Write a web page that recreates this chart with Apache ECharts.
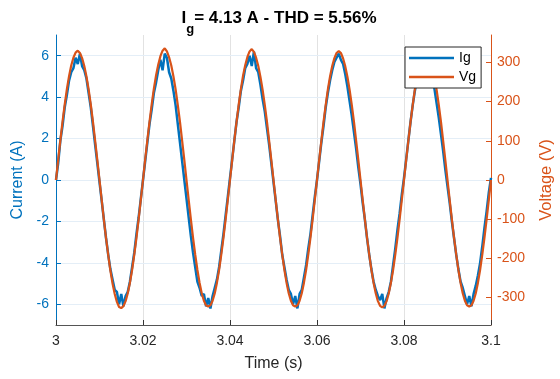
<!DOCTYPE html>
<html>
<head>
<meta charset="utf-8">
<script src="https://cdn.jsdelivr.net/npm/echarts@6/dist/echarts.min.js"></script>
<style>html,body{margin:0;padding:0;background:#fff}#c{width:560px;height:379px}</style>
</head>
<body>
<div id="c"></div>
<script>
// sampling grid (s)
const sampleStart = 3.0;
const sampleStep = 0.0005;
// ticks
const xTicks = [3, 3.02, 3.04, 3.06, 3.08, 3.1];
const currentTicks = [-6, -4, -2, 0, 2, 4, 6];
const voltageTicks = [-300, -200, -100, 0, 100, 200, 300];
// Ig (A)
const currentIg = [
 0.0, 0.8, 1.9, 2.6, 3.5, 4.1, 4.8, 5.2, 5.4, 5.9, 5.6, 6.1, 5.5, 5.3, 4.9, 4.2, 3.5, 2.6, 1.7, 0.8,
 -0.1, -1.0, -1.9, -2.8, -3.6, -4.3, -4.8, -5.3, -5.4, -6.0, -5.5, -6.1, -5.6, -5.4, -4.9, -4.2, -3.5, -2.6, -1.8, -0.9,
 0.0, 0.9, 1.8, 2.7, 3.4, 4.2, 4.7, 5.3, 5.8, 5.3, 6.1, 5.9, 5.2, 4.9, 4.3, 3.6, 2.7, 1.8, 0.9, 0.0,
 -0.9, -1.8, -2.7, -3.5, -4.2, -4.9, -5.2, -5.6, -5.5, -6.1, -5.7, -6.2, -5.6, -5.2, -4.8, -4.2, -3.4, -2.6, -1.7, -0.8,
 0.1, 1.0, 1.9, 2.8, 3.5, 4.3, 4.8, 5.4, 5.6, 6.0, 5.5, 6.2, 5.4, 5.2, 4.6, 3.9, 3.3, 2.5, 1.7, 0.8,
 -0.1, -1.0, -1.9, -2.7, -3.6, -4.2, -4.8, -5.3, -5.5, -6.0, -5.6, -6.2, -5.5, -5.3, -4.7, -4.1, -3.3, -2.6, -1.7, -0.8,
 0.0, 0.9, 1.8, 2.6, 3.5, 4.2, 4.8, 5.3, 5.7, 5.9, 6.1, 5.8, 5.6, 5.1, 4.5, 3.8, 3.1, 2.3, 1.5, 0.6,
 -0.2, -1.1, -1.9, -2.8, -3.6, -4.3, -4.9, -5.3, -5.6, -5.8, -5.5, -6.2, -5.7, -5.4, -4.9, -4.1, -3.3, -2.4, -1.6, -0.7,
 0.1, 1.0, 1.9, 2.8, 3.6, 4.3, 4.9, 5.4, 5.8, 6.0, 6.1, 5.9, 5.5, 5.0, 4.4, 3.7, 3.0, 2.2, 1.4, 0.5,
 -0.3, -1.1, -2.0, -2.8, -3.6, -4.3, -4.9, -5.2, -5.6, -6.0, -5.6, -6.1, -5.5, -5.1, -4.6, -4.0, -3.2, -2.3, -1.5, -0.6,
 0.1
];
// Vg (V)
const voltageVg = [
 0, 52, 101, 149, 192, 232, 265, 292, 312, 325, 330, 324, 311, 291, 264, 231, 192, 148, 100, 51,
 0, -51, -101, -148, -191, -231, -264, -291, -311, -324, -327, -322, -309, -289, -262, -229, -190, -147, -100, -50,
 0, 52, 101, 149, 193, 233, 267, 294, 316, 330, 336, 328, 313, 292, 264, 231, 191, 148, 100, 51,
 0, -51, -100, -147, -190, -229, -262, -289, -308, -320, -323, -320, -308, -289, -262, -229, -190, -147, -100, -50,
 0, 51, 101, 148, 192, 232, 266, 293, 314, 328, 334, 327, 312, 291, 263, 230, 191, 148, 100, 51,
 0, -51, -100, -147, -190, -229, -262, -289, -308, -320, -323, -320, -308, -289, -262, -229, -190, -147, -100, -50,
 0, 51, 100, 148, 191, 231, 264, 291, 311, 324, 329, 324, 310, 290, 263, 230, 191, 148, 100, 51,
 0, -51, -100, -147, -190, -229, -262, -289, -309, -321, -325, -321, -309, -289, -262, -229, -190, -147, -100, -50,
 0, 51, 100, 148, 191, 231, 264, 291, 311, 324, 329, 324, 310, 290, 263, 230, 191, 148, 100, 51,
 0, -51, -100, -147, -190, -229, -262, -289, -308, -320, -323, -320, -308, -289, -262, -229, -190, -147, -100, -50,
 0
];

const igData = currentIg.map((v, i) => [sampleStart + i * sampleStep, v]);
const vgData = voltageVg.map((v, i) => [sampleStart + i * sampleStep, v]);

const FONT = 'Liberation Sans, Arial, Helvetica, sans-serif';
const chart = echarts.init(document.getElementById('c'), null, {renderer: 'canvas'});
chart.setOption({
  animation: false,
  backgroundColor: '#fff',
  title: {
    text: '{a|I}{s|g}{a|= 4.13 A - THD = 5.56%}',
    left: 274, top: 5, textAlign: 'center',
    textStyle: {
      rich: {
        a: {fontFamily: FONT, fontSize: 17, fontWeight: 'bold', color: '#000', lineHeight: 22, verticalAlign: 'top'},
        s: {fontFamily: FONT, fontSize: 13, fontWeight: 'bold', color: '#000', lineHeight: 22, verticalAlign: 'top', padding: [13, 0, 0, 0]}
      }
    }
  },
  legend: {
    orient: 'vertical', left: 405, top: 47, z: 50,
    padding: [3, 5, 3, 4], itemGap: 3, itemWidth: 45, itemHeight: 2.5,
    backgroundColor: '#fff', borderColor: '#262626', borderWidth: 1,
    textStyle: {fontFamily: FONT, fontSize: 14, color: '#000', lineHeight: 16},
    data: [{name: 'Ig', icon: 'rect'}, {name: 'Vg', icon: 'rect'}]
  },
  grid: {left: 56, right: 69, top: 35, bottom: 54, outerBoundsMode: 'none', containLabel: false},
  xAxis: {
    type: 'value', min: 3, max: 3.1, interval: 0.02,
    name: 'Time (s)', nameLocation: 'middle', nameGap: 31,
    nameTextStyle: {fontFamily: FONT, fontSize: 16, color: '#262626'},
    axisLine: {onZero: false, lineStyle: {color: '#555', width: 1}},
    axisTick: {inside: true, length: 5, lineStyle: {color: '#333'}},
    axisLabel: {fontFamily: FONT, fontSize: 14, color: '#262626', margin: 9,
      formatter: v => String(parseFloat(v.toFixed(2)))},
    splitLine: {show: true, lineStyle: {color: '#e2e2e2', width: 1}}
  },
  yAxis: [{
    type: 'value', min: -7, max: 7, position: 'left',
    name: 'Current (A)', nameLocation: 'middle', nameGap: 27, nameRotate: 90,
    nameTextStyle: {fontFamily: FONT, fontSize: 16, color: '#0072BD'},
    axisLine: {show: true, onZero: false, lineStyle: {color: '#0072BD', width: 1}},
    axisTick: {show: true, inside: true, length: 5, customValues: currentTicks, lineStyle: {color: '#0072BD'}},
    axisLabel: {fontFamily: FONT, fontSize: 14, color: '#0072BD', margin: 7, customValues: currentTicks},
    splitLine: {show: false}
  }, {
    type: 'value', min: -370, max: 370, position: 'right',
    name: 'Voltage (V)', nameLocation: 'middle', nameGap: 47, nameRotate: 90,
    nameTextStyle: {fontFamily: FONT, fontSize: 16.5, color: '#D95319'},
    axisLine: {show: true, onZero: false, lineStyle: {color: '#D95319', width: 1}},
    axisTick: {show: true, inside: true, length: 5, customValues: voltageTicks, lineStyle: {color: '#D95319'}},
    axisLabel: {fontFamily: FONT, fontSize: 14, color: '#D95319', margin: 6, customValues: voltageTicks},
    splitLine: {show: false}
  }],
  series: [{
    name: 'Ig', type: 'line', yAxisIndex: 0, data: igData,
    showSymbol: false, symbol: 'none',
    lineStyle: {color: '#0072BD', width: 2.5}, itemStyle: {color: '#0072BD'},
    markLine: {
      silent: true, symbol: 'none', label: {show: false}, z: 0,
      lineStyle: {color: '#e4eef7', width: 1, type: 'solid'},
      data: currentTicks.map(v => ({yAxis: v}))
    },
    z: 3
  }, {
    name: 'Vg', type: 'line', yAxisIndex: 1, data: vgData,
    showSymbol: false, symbol: 'none',
    lineStyle: {color: '#D95319', width: 2.2}, itemStyle: {color: '#D95319'},
    z: 4
  }]
});
</script>
</body>
</html>
